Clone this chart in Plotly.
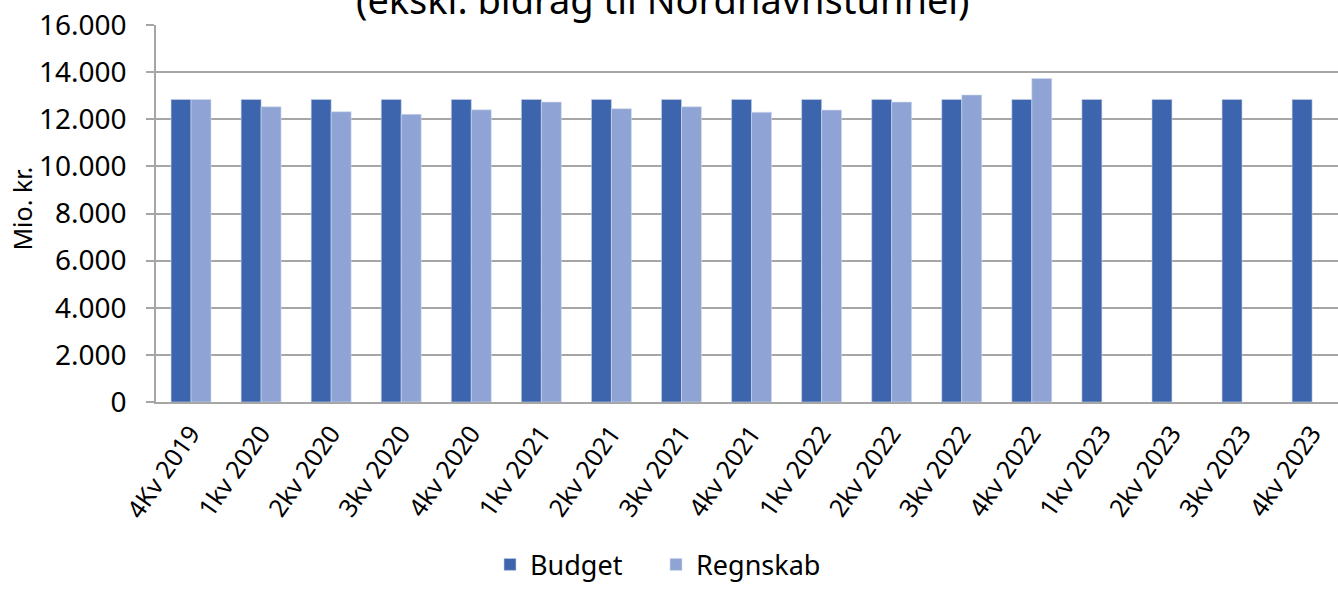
import plotly.graph_objects as go

categories = ["4Kv 2019", "1kv 2020", "2kv 2020", "3kv 2020", "4kv 2020",
              "1kv 2021", "2kv 2021", "3kv 2021", "4kv 2021",
              "1kv 2022", "2kv 2022", "3kv 2022", "4kv 2022",
              "1kv 2023", "2kv 2023", "3kv 2023", "4kv 2023"]
budget = [12840] * 17
regnskab = [12840, 12530, 12320, 12210, 12400, 12730, 12450, 12530, 12300,
            12390, 12730, 13030, 13730, None, None, None, None]
y_ticks = [0, 2000, 4000, 6000, 8000, 10000, 12000, 14000, 16000]
y_tick_text = ["0", "2.000", "4.000", "6.000", "8.000", "10.000", "12.000", "14.000", "16.000"]

FONT = "Noto Sans"
W, H = 1338, 590
L, T, B = 156, 25, 183
PW, PH = W - L, H - T - B


def px_x(x):  # image x -> paper
    return (x - L) / PW


def px_y(y):  # image y -> paper
    return (H - B - y) / PH


fig = go.Figure()
fig.add_trace(go.Bar(x=categories, y=budget, name="Budget",
                     marker=dict(color="#3D65AD", line=dict(color="#C9D3EA", width=0.6))))
fig.add_trace(go.Bar(x=categories, y=regnskab, name="Regnskab",
                     marker=dict(color="#8FA4D4", line=dict(color="#D3DCF0", width=0.6))))

fig.update_layout(
    width=W, height=H,
    margin=dict(l=L, r=0, t=T, b=B),
    paper_bgcolor="white", plot_bgcolor="white",
    barmode="group", bargap=0.43, bargroupgap=0,
    font=dict(family=FONT, color="#000000", size=24),
    showlegend=True,
    legend=dict(orientation="h", x=px_x(490), xanchor="left",
                y=px_y(572), yanchor="middle",
                font=dict(size=27, family=FONT), traceorder="normal",
                entrywidth=121, entrywidthmode="pixels"),
    xaxis=dict(type="category", range=[-0.5, 16.37], tickangle=-55, automargin=False,
               tickfont=dict(size=25, family=FONT), showgrid=False, ticklabelstandoff=5,
               showline=True, linecolor="#A6A6A6", linewidth=1.5, ticks=""),
    yaxis=dict(range=[0, 16000], tickvals=y_ticks, ticktext=y_tick_text, automargin=False,
               tickfont=dict(size=28, family=FONT), showgrid=True, ticklabelstandoff=14,
               gridcolor="#A6A6A6", gridwidth=1.5, zeroline=False,
               showline=True, linecolor="#A6A6A6", linewidth=1.5,
               ticks="outside", ticklen=8, tickcolor="#A6A6A6", tickwidth=1.5),
    annotations=[
        dict(text="(ekskl. bidrag til Nordhavnstunnel)", xref="paper", yref="paper",
             x=px_x(663), y=px_y(-1), xanchor="center", yanchor="middle",
             showarrow=False, font=dict(size=38, family=FONT)),
        dict(text="Mio. kr.", xref="paper", yref="paper", textangle=-90,
             x=px_x(22), y=px_y(211), xanchor="center", yanchor="middle",
             showarrow=False, font=dict(size=25, family=FONT)),
    ],
)
fig.write_html("out.html", config={"displayModeBar": False},
               post_script="document.body.style.margin='0px';document.body.style.overflow='hidden';")
